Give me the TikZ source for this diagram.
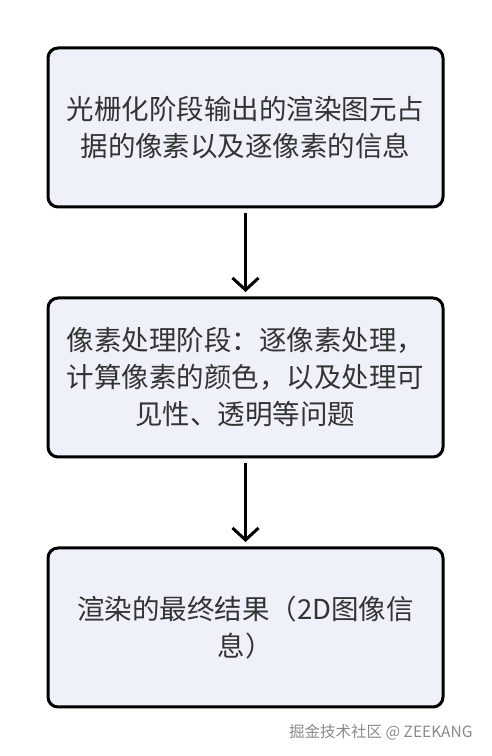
\documentclass[tikz,border=0pt]{standalone}
\usepackage{fontspec}
\setmainfont{Noto Sans CJK SC}
\usetikzlibrary{arrows.meta,positioning}

\definecolor{stagefill}{HTML}{EEF1FA}
\definecolor{stagetext}{HTML}{333333}
\definecolor{markgray}{HTML}{8A8A8A}

\begin{document}
\begin{tikzpicture}[x=1pt,y=1pt,
    stage/.style={draw=black, line width=3pt, rounded corners=10pt, fill=stagefill,
        minimum width=395pt, minimum height=159pt, align=center, text=stagetext,
        font=\fontsize{27.5}{37}\selectfont},
    flow/.style={-{Straight Barb[length=12pt,width=26pt]}, line width=3pt,
        shorten <=4.5pt, shorten >=4.5pt}]
    \useasboundingbox (0,0) rectangle (492,756);

    \node[stage] (raster) at (245.5,628.5) {光栅化阶段输出的渲染图元占\\据的像素以及逐像素的信息};
    \node[stage, below=88pt of raster] (pixel) {像素处理阶段：逐像素处理，\\计算像素的颜色，以及处理可\\见性、透明等问题};
    \node[stage, below=88pt of pixel] (result) {渲染的最终结果（2D图像信\\息）};

    \draw[flow] (raster) -- (pixel);
    \draw[flow] (pixel) -- (result);

    \node[anchor=east, text=markgray, font=\fontsize{15.5}{17}\selectfont] (mark) at (476,24) {掘金技术社区 @ ZEEKANG};
\end{tikzpicture}
\end{document}
